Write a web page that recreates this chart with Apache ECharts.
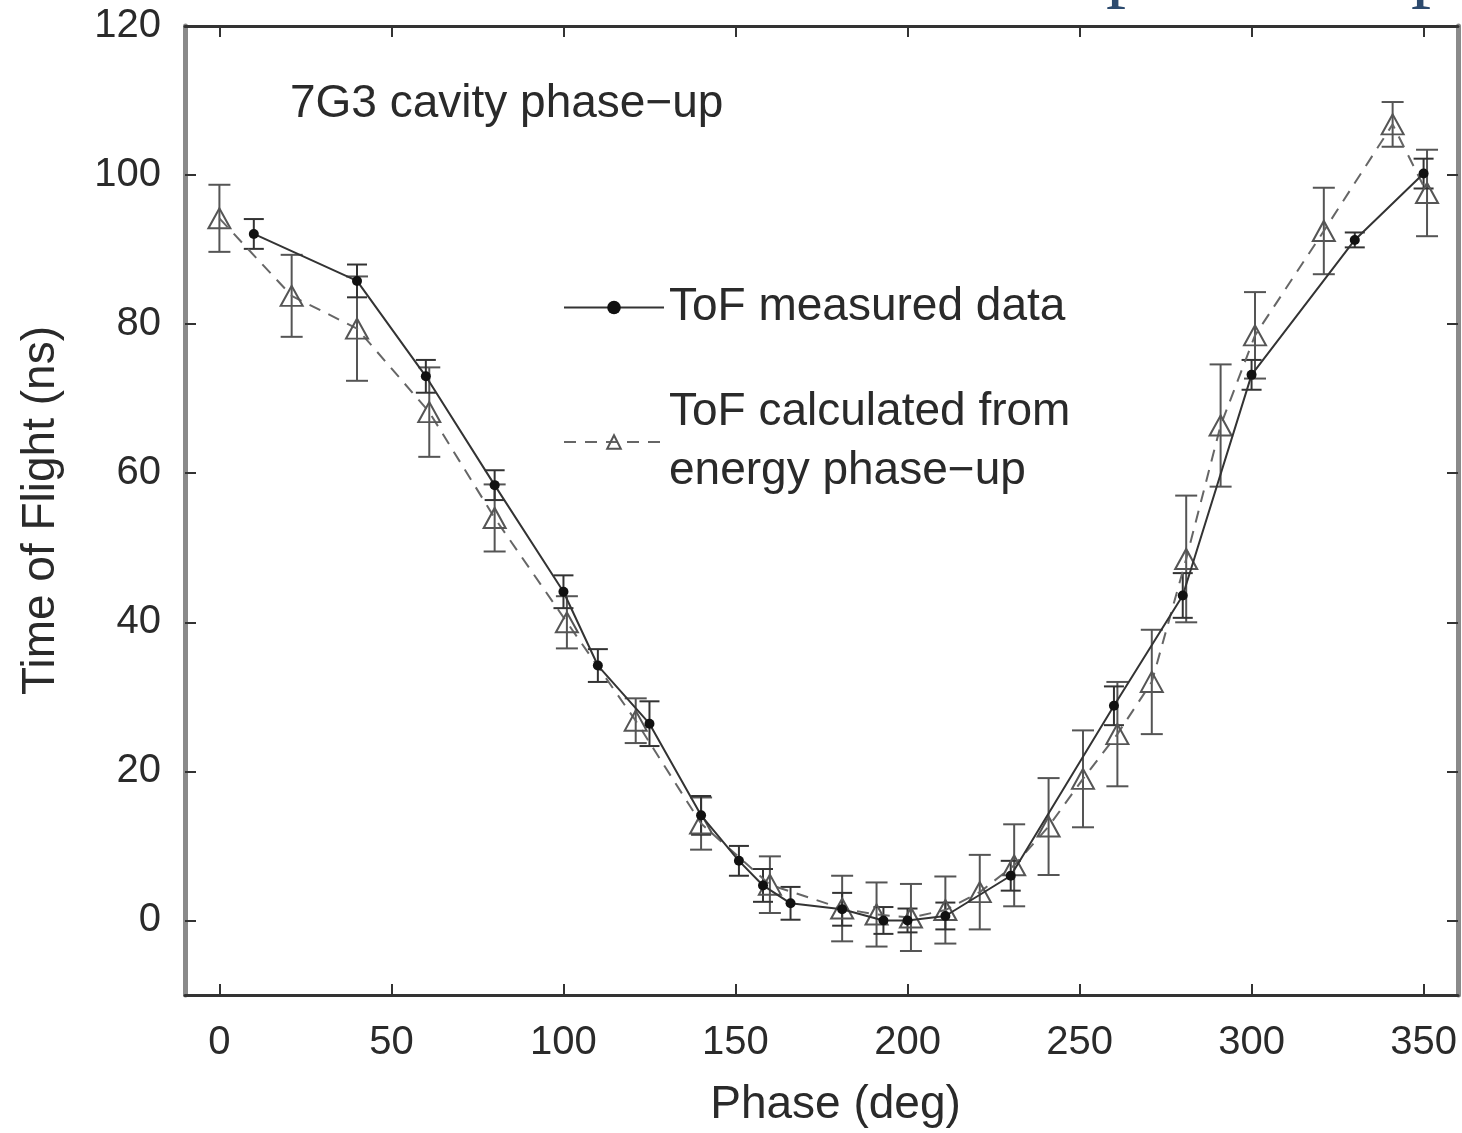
<!DOCTYPE html>
<html>
<head>
    <meta charset="utf-8">
    <title>7G3 cavity phase-up</title>
    <script src="https://cdn.jsdelivr.net/npm/echarts@6/dist/echarts.min.js"></script>
    <style>
        html, body { margin: 0; padding: 0; background: #fff; }
        #main { width: 1462px; height: 1133px; }
    </style>
</head>
<body>
    <div id="main"></div>
    <script>
        // ToF measured data (filled dots, solid line)
        var measX   = [10, 40, 60, 80, 100, 110, 125, 140, 151, 158, 166, 181, 193, 200, 211, 230, 260, 280, 300, 330, 350];
        var measY   = [92.1, 85.8, 73, 58.4, 44.1, 34.2, 26.4, 14.1, 8, 4.7, 2.3, 1.5, 0, 0, 0.6, 6, 28.8, 43.6, 73.2, 91.3, 100.2];
        var measErr = [2, 2.2, 2.2, 2, 2.2, 2.2, 3, 2.6, 2, 2.2, 2.2, 2.2, 1.8, 1.6, 1.8, 2, 2.6, 3, 2, 1, 2];

        // ToF calculated from energy phase-up (open triangles, dashed line)
        var calcX   = [0, 21, 40, 61, 80, 101, 121, 140, 160, 181, 191, 201, 211, 221, 231, 241, 251, 261, 271, 281, 291, 301, 321, 341, 351];
        var calcY   = [94.2, 83.8, 79.4, 68.2, 54, 40, 26.8, 13, 4.8, 1.6, 0.8, 0.4, 1.4, 3.8, 7.4, 12.6, 19, 25, 32, 48.5, 66.4, 78.5, 92.5, 106.8, 97.6];
        var calcErr = [4.5, 5.5, 7, 6, 4.5, 3.5, 3, 3.5, 3.8, 4.4, 4.3, 4.5, 4.5, 5, 5.5, 6.5, 6.5, 7, 7, 8.5, 8.2, 5.8, 5.8, 3, 5.8];

        var tickX = [0, 50, 100, 150, 200, 250, 300, 350];
        var tickY = [0, 20, 40, 60, 80, 100, 120];

        var nameMeas = 'ToF measured data';
        var nameCalc = 'ToF calculated from\nenergy phase\u2212up';

        var font = "'Liberation Sans', Arial, Helvetica, sans-serif";

        function pairs(xs, ys) {
            return xs.map(function (x, i) { return [x, ys[i]]; });
        }
        function bars(xs, ys, es) {
            return xs.map(function (x, i) { return [x, ys[i] - es[i], ys[i] + es[i]]; });
        }
        function errorBar(color, cap) {
            return function (params, api) {
                var lo = api.coord([api.value(0), api.value(1)]);
                var hi = api.coord([api.value(0), api.value(2)]);
                var st = { stroke: color, lineWidth: 2 };
                return {
                    type: 'group',
                    children: [
                        { type: 'line', shape: { x1: lo[0], y1: lo[1], x2: hi[0], y2: hi[1] }, style: st },
                        { type: 'line', shape: { x1: lo[0] - cap, y1: lo[1], x2: lo[0] + cap, y2: lo[1] }, style: st },
                        { type: 'line', shape: { x1: hi[0] - cap, y1: hi[1], x2: hi[0] + cap, y2: hi[1] }, style: st }
                    ]
                };
            };
        }

        var chart = echarts.init(document.getElementById('main'));

        function xAxisOf(pos, withLabels) {
            var ax = {
                type: 'value', min: -10, max: 360, position: pos,
                splitLine: { show: false },
                axisLine: { show: true, onZero: false, lineStyle: { color: '#333', width: 3 } },
                axisTick: { show: true, inside: true, length: 11, customValues: tickX, lineStyle: { color: '#333', width: 2 } },
                axisLabel: { show: false }
            };
            if (withLabels) {
                ax.name = 'Phase (deg)';
                ax.nameLocation = 'middle';
                ax.nameGap = 87;
                ax.nameTextStyle = { fontFamily: font, fontSize: 46, color: '#2a2a2a', padding: [0, 0, 0, 28] };
                ax.axisLabel = { show: true, customValues: tickX, margin: 28, fontFamily: font, fontSize: 40, color: '#2a2a2a' };
            }
            return ax;
        }
        function yAxisOf(pos, withLabels) {
            var ax = {
                type: 'value', min: -10, max: 120, position: pos,
                splitLine: { show: false },
                axisLine: { show: true, onZero: false, lineStyle: { color: '#8a8a8a', width: 5 } },
                axisTick: { show: true, inside: true, length: 11, customValues: tickY, lineStyle: { color: '#333', width: 2 } },
                axisLabel: { show: false }
            };
            if (withLabels) {
                ax.name = 'Time of Flight (ns)';
                ax.nameLocation = 'middle';
                ax.nameGap = 121;
                ax.nameRotate = 90;
                ax.nameTextStyle = { fontFamily: font, fontSize: 46, color: '#2a2a2a' };
                ax.axisLabel = { show: true, customValues: tickY, margin: 24, fontFamily: font, fontSize: 40, color: '#2a2a2a' };
            }
            return ax;
        }

        var option = {
            animation: false,
            backgroundColor: '#fff',
            grid: { left: 185, right: 4, top: 26, bottom: 137, containLabel: false },
            xAxis: [xAxisOf('bottom', true), xAxisOf('top', false)],
            yAxis: [yAxisOf('left', true), yAxisOf('right', false)],
            legend: {
                orient: 'vertical',
                left: 558, top: 273,
                itemWidth: 100, itemHeight: 17, itemGap: 46,
                data: [nameMeas, nameCalc],
                textStyle: { fontFamily: font, fontSize: 46, color: '#2a2a2a', lineHeight: 59 }
            },
            graphic: [
                { type: 'text', left: 290, top: 81, style: { text: '7G3 cavity phase\u2212up', font: '46px ' + font, fill: '#2a2a2a' } },
                { type: 'text', left: 1106, top: -69, style: { text: 'p', font: '80px "Liberation Serif", serif', fill: '#2c4a6e' } },
                { type: 'text', left: 1411, top: -69, style: { text: 'p', font: '80px "Liberation Serif", serif', fill: '#2c4a6e' } }
            ],
            series: [
                {
                    name: 'calcErr', type: 'custom', silent: true,
                    renderItem: errorBar('#555', 11),
                    encode: { x: 0, y: [1, 2] },
                    data: bars(calcX, calcY, calcErr), z: 1
                },
                {
                    name: 'measErr', type: 'custom', silent: true,
                    renderItem: errorBar('#333', 10),
                    encode: { x: 0, y: [1, 2] },
                    data: bars(measX, measY, measErr), z: 1
                },
                {
                    name: nameCalc, type: 'line',
                    data: pairs(calcX, calcY),
                    symbol: 'triangle', symbolSize: [22, 20],
                    itemStyle: { color: 'rgba(255,255,255,0)', borderColor: '#555', borderWidth: 2 },
                    lineStyle: { color: '#666', width: 2, type: [12, 9] },
                    z: 2
                },
                {
                    name: nameMeas, type: 'line',
                    data: pairs(measX, measY),
                    symbol: 'circle', symbolSize: 10,
                    itemStyle: { color: '#111' },
                    lineStyle: { color: '#333', width: 2 },
                    z: 3
                }
            ]
        };

        chart.setOption(option);
    </script>
</body>
</html>
